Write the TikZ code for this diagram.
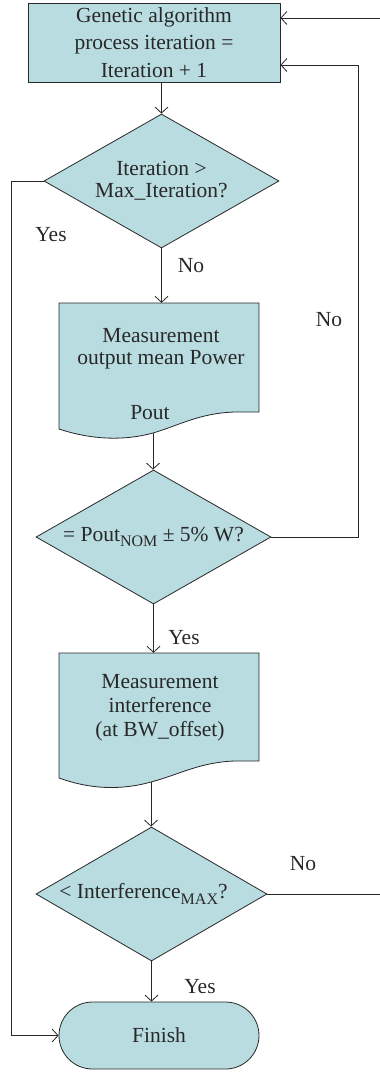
\documentclass[tikz,border=0pt]{standalone}
\usepackage{fontspec}
\setmainfont{Liberation Serif}
\usetikzlibrary{shapes.geometric,arrows.meta}
\definecolor{boxfill}{RGB}{185,220,224}
\definecolor{ln}{RGB}{40,40,40}
\newcommand\mysub[1]{\raisebox{-0.25em}{\fontsize{16}{16}\selectfont #1}}
\begin{document}
\begin{tikzpicture}[x=1pt,y=1pt,
  every node/.style={font=\fontsize{21.5}{24}\selectfont, text=ln},
  box/.style={draw=ln, fill=boxfill, line width=0.8pt},
  dia/.style={diamond, draw=ln, fill=boxfill, line width=0.8pt, inner sep=0pt, aspect=1.75, align=center},
  conn/.style={draw=ln, line width=0.8pt, -{Straight Barb[length=6pt,width=13pt]}},
  plain/.style={draw=ln, line width=0.8pt}]
\useasboundingbox (0,0) rectangle (380,-1072);

% box 1
\node[box, rectangle, minimum width=252, minimum height=79, inner sep=0, align=center,
      font=\fontsize{21.5}{27.5}\selectfont] (b1) at (154,-42.5)
  {Genetic algorithm\\process iteration =\\Iteration + 1};

% diamond 1
\node[dia, minimum width=235, minimum height=134, font=\fontsize{21.5}{22}\selectfont] (d1) at (161.5,-181)
  {Iteration >\\Max\_Iteration?};

% document 1
\node[rectangle, minimum width=200, minimum height=126, inner sep=0] (m1) at (159,-366) {};
\path[box] (59,-303) -- (259,-303) -- (259,-412) -- (235,-412)
  .. controls (200,-413) and (180,-425) .. (153,-433)
  .. controls (128,-440) and (95,-441) .. (59,-429) -- cycle;
\coordinate (m1b) at (153,-433);
\node[align=center, font=\fontsize{21.5}{22}\selectfont] (m1t) at (161,-349) {Measurement\\output mean Power};
\node (m1p) at (150,-413) {Pout};

% diamond 2
\node[dia, minimum width=235, minimum height=134] (d2) at (153.5,-537)
  {= Pout\mysub{NOM} ± 5\% W?};

% document 2
\begin{scope}[yshift=-350pt]
\node[rectangle, minimum width=200, minimum height=126, inner sep=0] (m2) at (159,-366) {};
\path[box] (59,-303) -- (259,-303) -- (259,-411) -- (235,-411)
  .. controls (200,-412) and (178,-425) .. (151,-432)
  .. controls (126,-439) and (95,-441) .. (59,-428) -- cycle;
\coordinate (m2b) at (151,-432);
\end{scope}
\node[align=center] (m2t) at (160,-708) {Measurement\\interference\\(at BW\_offset)};

% diamond 3
\node[dia, minimum width=231, minimum height=134] (d3) at (151.5,-894)
  {< Interference\mysub{MAX}?\hspace*{16pt}};

% finish
\node[box, rectangle, rounded corners=33.5, minimum width=200, minimum height=67, inner sep=0] (fin) at (159,-1035.5) {Finish};

% connectors
\draw[conn] (d1.north |- b1.south) -- (d1.north);
\draw[conn] (d1.south) -- (d1.south |- m1.north);
\draw[conn] (d1.west) -- ++(-32,0) |- (fin.west);
\draw[conn] (m1b) -- (m1b |- d2.north);
\draw[conn] (d2.south) -- (d2.south |- m2.north);
\coordinate (r1) at (358,-65);
\draw[conn] (d2.east) -| (r1) -- (r1 -| b1.east);
\draw[conn] (m2b) -- (m2b |- d3.north);
\draw[conn] (d3.south) -- (d3.south |- fin.north);
\coordinate (r2) at (380,-894);
\draw[plain] (d3.east) -- (r2);
\coordinate (r3) at (380,-18);
\draw[conn] (r3) -- (r3 -| b1.east);

% labels
\node (l1) at (51,-235) {Yes};
\node (l2) at (191,-266) {No};
\node (l3) at (329,-320) {No};
\node (l4) at (184,-638) {Yes};
\node (l5) at (303,-864) {No};
\node (l6) at (200,-987) {Yes};
\end{tikzpicture}
\end{document}
